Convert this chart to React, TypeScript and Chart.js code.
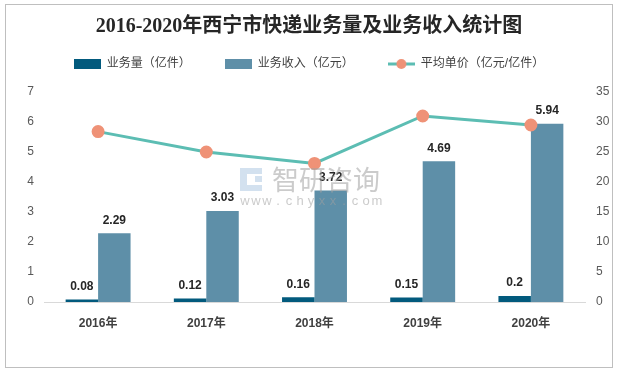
import React, { useEffect, useRef } from "react";
import { Chart, registerables, layouts } from "chart.js";

Chart.register(...registerables);

const categories = ["2016年", "2017年", "2018年", "2019年", "2020年"];
const volume = [0.08, 0.12, 0.16, 0.15, 0.2];
const revenue = [2.29, 3.03, 3.72, 4.69, 5.94];
const unitPrice = [28.4, 25.0, 23.1, 31.0, 29.5];

const seriesNames = ["业务量（亿件）", "业务收入（亿元）", "平均单价（亿元/亿件）"];
const titleText = "2016-2020年西宁市快递业务量及业务收入统计图";

const DARK = "#025A7D";
const LIGHT = "#5E8FA8";
const LINE = "#5CBDB3";
const POINT = "#EF9277";
const FONT = '"Liberation Sans", "Noto Sans CJK SC", sans-serif';

function boxIcon(color: string) {
  const c = document.createElement("canvas");
  c.width = 27;
  c.height = 10;
  const x = c.getContext("2d")!;
  x.fillStyle = color;
  x.fillRect(0, 0, 27, 10);
  return c;
}

function lineIcon() {
  const c = document.createElement("canvas");
  c.width = 27;
  c.height = 12;
  const x = c.getContext("2d")!;
  x.strokeStyle = LINE;
  x.lineWidth = 3;
  x.beginPath();
  x.moveTo(0, 6);
  x.lineTo(27, 6);
  x.stroke();
  x.fillStyle = POINT;
  x.beginPath();
  x.arc(13.5, 6, 5, 0, Math.PI * 2);
  x.fill();
  return c;
}

const spacer = {
  id: "spacer",
  beforeInit(chart: any) {
    const box: any = {
      position: "top",
      weight: 100,
      fullSize: true,
      options: {},
      left: 0,
      top: 0,
      right: 0,
      bottom: 0,
      width: 0,
      height: 0,
      update(maxW: number) {
        this.width = maxW;
        this.height = 12;
      },
      isHorizontal() {
        return true;
      },
      draw() {},
    };
    layouts.addBox(chart, box);
  },
};

const valueLabels = {
  id: "valueLabels",
  afterDatasetsDraw(chart: any) {
    const ctx = chart.ctx;
    ctx.save();
    ctx.font = `bold 12px ${FONT}`;
    ctx.fillStyle = "#262626";
    ctx.textAlign = "center";
    ctx.textBaseline = "middle";
    [0, 1].forEach((di) => {
      const meta = chart.getDatasetMeta(di);
      const data = chart.data.datasets[di].data as number[];
      meta.data.forEach((el: any, i: number) => {
        ctx.fillText(String(data[i]), el.x, el.y - 13);
      });
    });
    ctx.restore();
  },
};

const watermark = {
  id: "watermark",
  afterDraw(chart: any) {
    const ctx = chart.ctx;
    ctx.save();
    ctx.fillStyle = "rgba(175,200,225,0.55)";
    ctx.fillRect(240, 168, 7, 23);
    ctx.fillRect(247, 168, 15, 6);
    ctx.fillRect(255, 176, 7, 6);
    ctx.fillRect(247, 185, 15, 6);
    ctx.fillStyle = "rgba(160,160,160,0.55)";
    ctx.font = `27px "Noto Sans CJK SC", sans-serif`;
    ctx.textAlign = "left";
    ctx.textBaseline = "middle";
    ctx.fillText("智研咨询", 272, 180);
    ctx.font = `13px ${FONT}`;
    ctx.textAlign = "center";
    const s = "www.chyxx.com";
    for (let i = 0; i < s.length; i++) {
      ctx.fillText(s[i], 245 + i * 11, 201);
    }
    ctx.restore();
  },
};

export default function App() {
  const ref = useRef<HTMLCanvasElement>(null);

  useEffect(() => {
    const icons = [boxIcon(DARK), boxIcon(LIGHT), lineIcon()];
    const chart = new Chart(ref.current!, {
      type: "bar",
      data: {
        labels: categories,
        datasets: [
          {
            label: seriesNames[0],
            data: volume,
            backgroundColor: DARK,
            yAxisID: "y",
            order: 1,
            barPercentage: 1,
            categoryPercentage: 0.6,
          },
          {
            label: seriesNames[1],
            data: revenue,
            backgroundColor: LIGHT,
            yAxisID: "y",
            order: 2,
            barPercentage: 1,
            categoryPercentage: 0.6,
          },
          {
            type: "line",
            label: seriesNames[2],
            data: unitPrice,
            borderColor: LINE,
            backgroundColor: POINT,
            borderWidth: 3,
            pointRadius: 5,
            pointBackgroundColor: POINT,
            pointBorderColor: POINT,
            yAxisID: "y1",
            order: 0,
            tension: 0,
          } as any,
        ],
      },
      options: {
        responsive: false,
        animation: false,
        layout: { padding: { top: 0, left: 0, right: 0, bottom: 0 } },
        plugins: {
          title: {
            display: true,
            text: titleText,
            color: "#262626",
            font: { size: 20, weight: "bold", family: '"Liberation Serif", "Noto Sans CJK SC", serif' },
            padding: { top: 15, bottom: -15 },
          },
          legend: {
            display: true,
            labels: {
              usePointStyle: true,
              pointStyleWidth: 27,
              boxHeight: 10,
              padding: 34,
              color: "#404040",
              font: { size: 12, family: FONT },
              generateLabels(ch: any) {
                const items = Chart.defaults.plugins.legend.labels.generateLabels(ch);
                items.forEach((it: any) => {
                  it.pointStyle = icons[it.datasetIndex];
                });
                items.sort((a: any, b: any) => a.datasetIndex - b.datasetIndex);
                return items;
              },
            },
          },
          tooltip: { enabled: false },
        },
        scales: {
          x: {
            grid: { display: false, drawTicks: false },
            border: { display: true, color: "#d9d9d9" },
            ticks: { color: "#404040", font: { size: 12, weight: "bold", family: FONT }, padding: 14 },
            afterFit(s: any) {
              s.height = 71;
            },
          },
          y: {
            position: "left",
            min: 0,
            max: 7,
            ticks: { stepSize: 1, color: "#595959", font: { size: 12, family: FONT }, padding: 10 },
            grid: { display: false, drawTicks: false },
            border: { display: false },
            afterFit(s: any) {
              s.width = 44;
            },
          },
          y1: {
            position: "right",
            min: 0,
            max: 35,
            ticks: { stepSize: 5, color: "#595959", font: { size: 12, family: FONT }, padding: 11 },
            grid: { display: false, drawTicks: false },
            border: { display: false },
            afterFit(s: any) {
              s.width = 33;
            },
          },
        },
      } as any,
      plugins: [spacer, valueLabels, watermark],
    });
    return () => chart.destroy();
  }, []);

  return (
    <div style={{ position: "absolute", left: 0, top: 0, width: 618, height: 373, background: "#fff" }}>
      <canvas ref={ref} width={618} height={373} style={{ display: "block" }} />
      <div
        style={{
          position: "absolute",
          left: 5,
          top: 4,
          width: 608,
          height: 364,
          border: "1px solid #bfbfbf",
          boxSizing: "border-box",
          pointerEvents: "none",
        }}
      />
    </div>
  );
}
